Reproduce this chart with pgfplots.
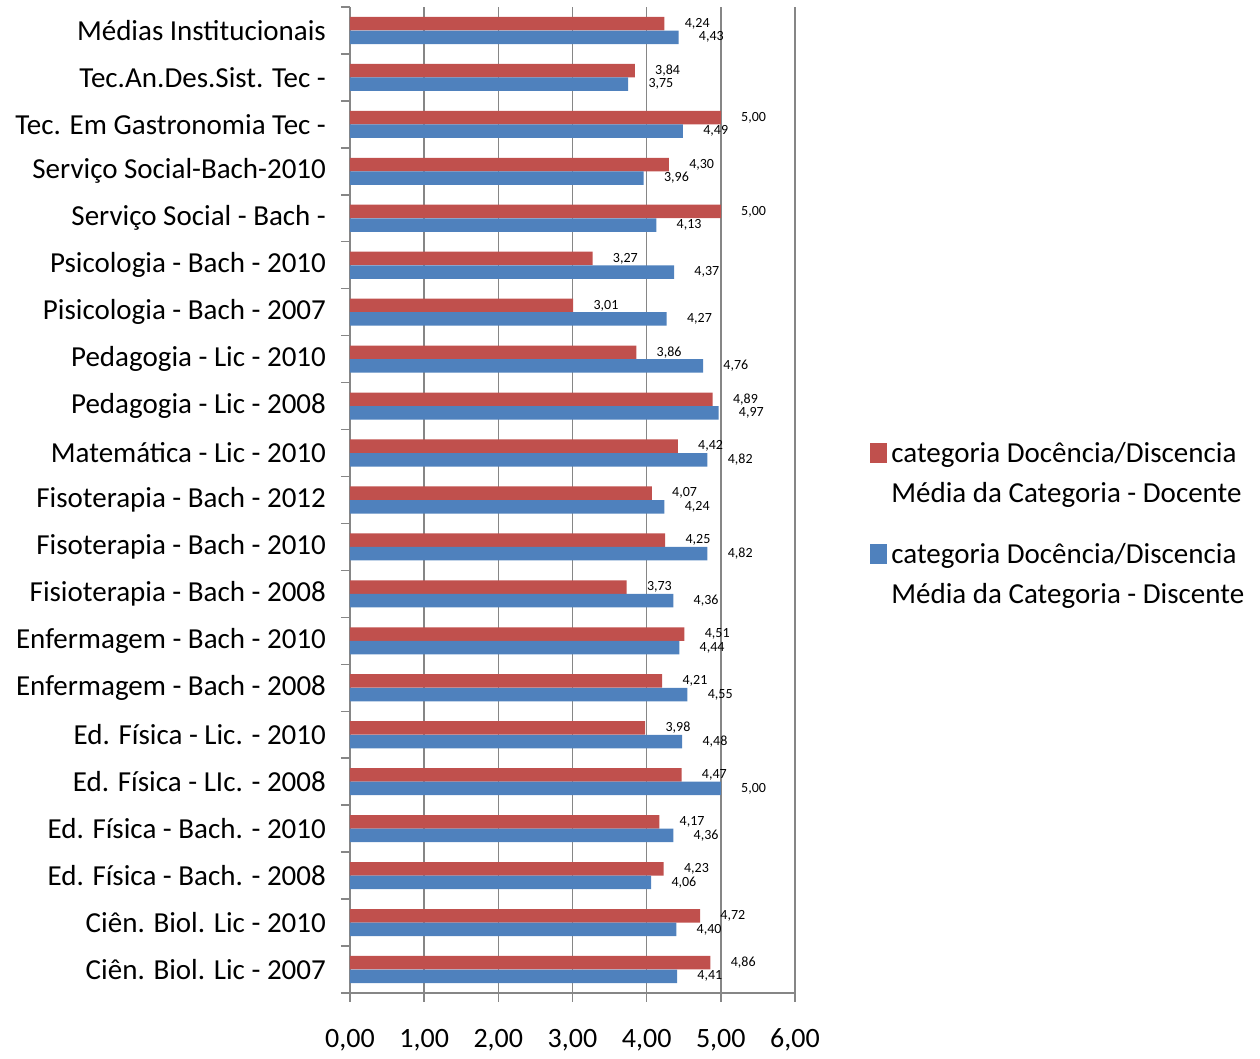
\documentclass[border=0pt]{standalone}
\usepackage{pgfplots}
\pgfplotsset{compat=1.18}
\usepackage{pgfplotstable}
\usepackage{fontspec}
\setmainfont{Carlito}
\definecolor{redbar}{HTML}{C0504D}
\definecolor{bluebar}{HTML}{4F81BD}
\definecolor{axgray}{HTML}{868686}

\pgfplotstableread{
idx red blue
20 4.24 4.43
19 3.84 3.75
18 5.00 4.49
17 4.30 3.96
16 5.00 4.13
15 3.27 4.37
14 3.01 4.27
13 3.86 4.76
12 4.89 4.97
11 4.42 4.82
10 4.07 4.24
9 4.25 4.82
8 3.73 4.36
7 4.51 4.44
6 4.21 4.55
5 3.98 4.48
4 4.47 5.00
3 4.17 4.36
2 4.23 4.06
1 4.72 4.40
0 4.86 4.41
}\datatable

\begin{document}
\begin{tikzpicture}
\begin{axis}[
  scale only axis,
  width=222.5pt, height=493pt,
  xbar,
  bar width=6.75pt,
  xmin=0, xmax=6, ymin=-0.5, ymax=20.5,
  enlargelimits=false,
  clip=false,
  axis x line*=bottom,
  axis y line*=left,
  axis line style={axgray, line width=0.75pt, -},
  xmajorgrids,
  major grid style={axgray, line width=0.75pt},
  tick style={axgray, line width=0.75pt},
  tick align=outside,
  major tick length=4.5pt,
  xtick={0,1,...,6},
  xticklabel style={font=\fontsize{14}{16}\selectfont, yshift=-10pt},
  /pgf/number format/.cd, fixed, fixed zerofill, precision=2, use comma, assume math mode=true,
  /pgfplots/.cd,
  ytick={-0.5,0.5,...,19.5},
  yticklabels={Ciên. Biol. Lic - 2007, Ciên. Biol. Lic - 2010, Ed. Física - Bach. - 2008, Ed. Física - Bach. - 2010, Ed. Física - LIc. - 2008, Ed. Física - Lic. - 2010, Enfermagem - Bach - 2008, Enfermagem - Bach - 2010, Fisioterapia - Bach - 2008, Fisoterapia - Bach - 2010, Fisoterapia - Bach - 2012, Matemática - Lic - 2010, Pedagogia - Lic - 2008, Pedagogia - Lic - 2010, Pisicologia - Bach - 2007, Psicologia - Bach - 2010, Serviço Social - Bach -, Serviço Social-Bach-2010, Tec. Em Gastronomia Tec -, Tec.An.Des.Sist. Tec -, Médias Institucionais},
  yticklabel style={font=\fontsize{14.5}{17}\selectfont, yshift=11.74pt, xshift=-4pt},
  extra y ticks={20.5},
  extra y tick labels={},
  extra y tick style={yticklabel style={overlay}},
  point meta=x,
  nodes near coords={\pgfmathprintnumber[fixed,fixed zerofill,precision=2,use comma,assume math mode=true]{\pgfplotspointmeta}},
  nodes near coords style={font=\fontsize{7}{8}\selectfont, anchor=west, inner sep=0pt, xshift=10pt, text=black},
  legend image code/.code={\fill[#1] (0pt,0pt) rectangle (8.5pt,10pt);},
  legend style={at={(axis description cs:1,1)}, anchor=north west, xshift=37.5pt, yshift=-211.6pt,
    draw=none, fill=none, inner sep=0pt, row sep=31pt, column sep=0pt,
    font=\fontsize{14.5}{20}\selectfont,
    cells={anchor=base west, inner sep=0pt}},
]
\addplot[fill=redbar, draw=none, bar shift=3.4pt] table[x=red, y=idx] {\datatable};
\addlegendentry{\begin{tabular}[t]{@{}l@{}}categoria Docência/Discencia\\Média da Categoria - Docente\end{tabular}}
\addplot[fill=bluebar, draw=none, bar shift=-3.4pt] table[x=blue, y=idx] {\datatable};
\addlegendentry{\begin{tabular}[t]{@{}l@{}}categoria Docência/Discencia\\Média da Categoria - Discente\end{tabular}}
\end{axis}
\path (current axis.south west) ++(-175pt,-31pt) rectangle ++(630pt,527.5pt);
\end{tikzpicture}
\end{document}
